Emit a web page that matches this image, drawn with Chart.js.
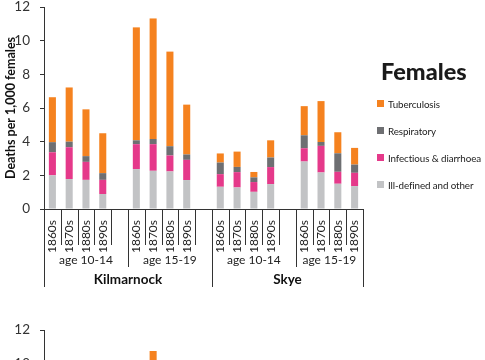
<!DOCTYPE html>
<html><head><meta charset="utf-8">
<script src="https://cdn.jsdelivr.net/npm/chart.js@4.4.1/dist/chart.umd.min.js"></script>
<style>
html,body{margin:0;padding:0;background:#fff;width:485px;height:360px;overflow:hidden;font-family:Lato,sans-serif}
#c1{position:absolute;left:0;top:0}
#c2{position:absolute;left:0;top:323px}
#title{position:absolute;left:381px;top:57px;font-family:Lato;font-weight:900;font-size:23.5px;color:#1a1a1a;line-height:28px}
.item{position:absolute;left:377px;white-space:nowrap;font-family:Lato;font-size:9.8px;letter-spacing:-0.1px;color:#222;line-height:14px;height:14px}
.sw{position:absolute;left:0;top:3px;width:7px;height:7px}
.txt{position:absolute;left:11px;top:0}
</style>
</head><body>
<canvas id="c1" width="485" height="300"></canvas>
<canvas id="c2" width="485" height="300"></canvas>
<div id="title">Females</div>
<div id="legend"></div>
<script>
// ---- data ----
const years = ['1860s','1870s','1880s','1890s'];
const ages = ['age 10-14','age 15-19'];
const regions = ['Kilmarnock','Skye'];
// order: Kilmarnock 10-14, Kilmarnock 15-19, Skye 10-14, Skye 15-19 (each 1860s..1890s)
const illDefined   = [2.00,1.78,1.73,0.89, 2.37,2.27,2.23,1.72, 1.32,1.28,1.02,1.48, 2.82,2.17,1.50,1.36];
const infectious   = [1.37,1.89,1.07,0.84, 1.48,1.58,0.95,1.20, 0.75,0.91,0.58,1.01, 0.79,1.58,0.71,0.79];
const respiratory  = [0.60,0.33,0.34,0.40, 0.23,0.31,0.55,0.32, 0.69,0.31,0.28,0.57, 0.77,0.23,1.10,0.49];
const tuberculosis = [2.67,3.22,2.78,2.37, 6.71,7.16,5.62,2.96, 0.54,0.91,0.32,1.02, 1.73,2.43,1.25,0.99];
// lower chart (only the top of one bar is visible in the picture)
const lowerVisibleTotals = [null,null,null,null, null,10.75,null,null, null,null,null,null, null,null,null,null];
const yTicks = [0,2,4,6,8,10,12];

// ---- build slots (blank slot after each age group except the last) ----
const slotLabels = [], slotIndex = [], ageSpans = [], regionSpans = [];
let s = 0;
regions.forEach((r, ri) => {
  const rStart = s;
  ages.forEach((a, ai) => {
    const aStart = s;
    years.forEach((y, yi) => { slotLabels.push(y); slotIndex.push(ri*8 + ai*4 + yi); s++; });
    const last = (ri === regions.length-1 && ai === ages.length-1);
    if (!last) { slotLabels.push(''); slotIndex.push(null); s++; }
    ageSpans.push({label:a, start:aStart, end:s});
  });
  regionSpans.push({label:r, start:rStart, end:s});
});
const toSlots = arr => slotIndex.map(i => i === null ? null : arr[i]);

const colors = {
  tb:'#F5821F', resp:'#6E6F72', inf:'#E5398A', ill:'#C2C3C5'
};
const series = [
  {label:'Ill-defined and other', data:illDefined, color:colors.ill},
  {label:'Infectious & diarrhoea', data:infectious, color:colors.inf},
  {label:'Respiratory', data:respiratory, color:colors.resp},
  {label:'Tuberculosis', data:tuberculosis, color:colors.tb}
];

function barGrad(color){
  return (ctx) => {
    const el = ctx.element; const chart = ctx.chart;
    if (!el || !chart.chartArea) return color;
    const w = el.width; const x = el.x;
    if (!isFinite(x) || !isFinite(w) || w <= 0) return color;
    const g = chart.ctx.createLinearGradient(x - w/2, 0, x + w/2, 0);
    g.addColorStop(0, Chart.helpers.color(color).lighten(0.12).rgbString());
    g.addColorStop(1, color);
    return g;
  };
}

const sepPlugin = {
  id:'sep',
  afterDraw(chart){
    const xs = chart.scales.x; const ctx = chart.ctx;
    const n = slotLabels.length;
    const y0 = xs.top;
    const edge = i => i === 0 ? xs.left : (i === n ? xs.right : (xs.getPixelForTick(i-1)+xs.getPixelForTick(i))/2);
    const ageB = new Set(ageSpans.map(a=>a.start));
    const regB = new Set(regionSpans.map(r=>r.start)); regB.add(n);
    ctx.save();
    ctx.strokeStyle = '#333'; ctx.lineWidth = 1;
    for (let i=0;i<=n;i++){
      let len = 36;
      if (regB.has(i)) len = 78; else if (ageB.has(i)) len = 58;
      const x = Math.round(edge(i)) + 0.5;
      ctx.beginPath(); ctx.moveTo(x, y0); ctx.lineTo(x, y0+len); ctx.stroke();
    }
    ctx.fillStyle = '#222'; ctx.textAlign = 'center'; ctx.textBaseline = 'middle';
    ctx.font = '12px Lato';
    ageSpans.forEach(a => ctx.fillText(a.label, (edge(a.start)+edge(a.end))/2, y0+51));
    ctx.font = 'bold 13.5px Lato'; ctx.fillStyle = '#111';
    regionSpans.forEach(r => ctx.fillText(r.label, (edge(r.start)+edge(r.end))/2, y0+71));
    ctx.restore();
  }
};

function baseOptions(titleText){
  return {
    responsive:false, animation:false,
    layout:{padding:{top:7,right:122,bottom:11,left:0}},
    plugins:{legend:{display:false},tooltip:{enabled:false}},
    scales:{
      x:{stacked:true, grid:{display:false}, border:{display:true,color:'#333'},
         ticks:{autoSkip:false,minRotation:90,maxRotation:90,padding:3,
                font:{family:'Lato',size:12},color:'#222'},
         afterFit(sc){ sc.height = 80; sc.paddingLeft = 0; sc.paddingRight = 0; }},
      y:{stacked:true, min:0, max:12,
         afterBuildTicks(sc){ sc.ticks = yTicks.map(v=>({value:v})); },
         ticks:{padding:10, font:{family:'Lato',size:13.5}, color:'#333'},
         grid:{drawOnChartArea:false, tickLength:4, color:'#333'},
         border:{display:true,color:'#333'},
         title:{display:!!titleText, text:titleText||'', color:'#111',
                font:{family:'Lato',weight:'bold',size:12.5}, padding:{top:3,bottom:0}},
         afterFit(sc){ sc.width = 44; sc.paddingTop = 0; sc.paddingBottom = 0; }}
    }
  };
}

const barOpts = {categoryPercentage:1, barPercentage:0.42, borderWidth:0};

new Chart(document.getElementById('c1'), {
  type:'bar',
  data:{labels:slotLabels, datasets: series.map(d => Object.assign({
    label:d.label, data:toSlots(d.data), backgroundColor:barGrad(d.color)
  }, barOpts))},
  options: baseOptions('Deaths per 1,000 females'),
  plugins:[sepPlugin]
});

new Chart(document.getElementById('c2'), {
  type:'bar',
  data:{labels:slotLabels, datasets:[Object.assign({label:'Tuberculosis', data:toSlots(lowerVisibleTotals),
        backgroundColor:barGrad(colors.tb)}, barOpts)]},
  options: baseOptions(''),
  plugins:[sepPlugin]
});

// ---- HTML legend (top item = last stacked series) ----
const leg = document.getElementById('legend');
const tops = [97, 124, 151, 178];
series.slice().reverse().forEach((d, i) => {
  const it = document.createElement('div'); it.className = 'item'; it.style.top = tops[i] + 'px';
  const sw = document.createElement('span'); sw.className = 'sw'; sw.style.background = d.color;
  const tx = document.createElement('span'); tx.className = 'txt'; tx.textContent = d.label;
  it.appendChild(sw); it.appendChild(tx); leg.appendChild(it);
});
</script>
</body></html>
